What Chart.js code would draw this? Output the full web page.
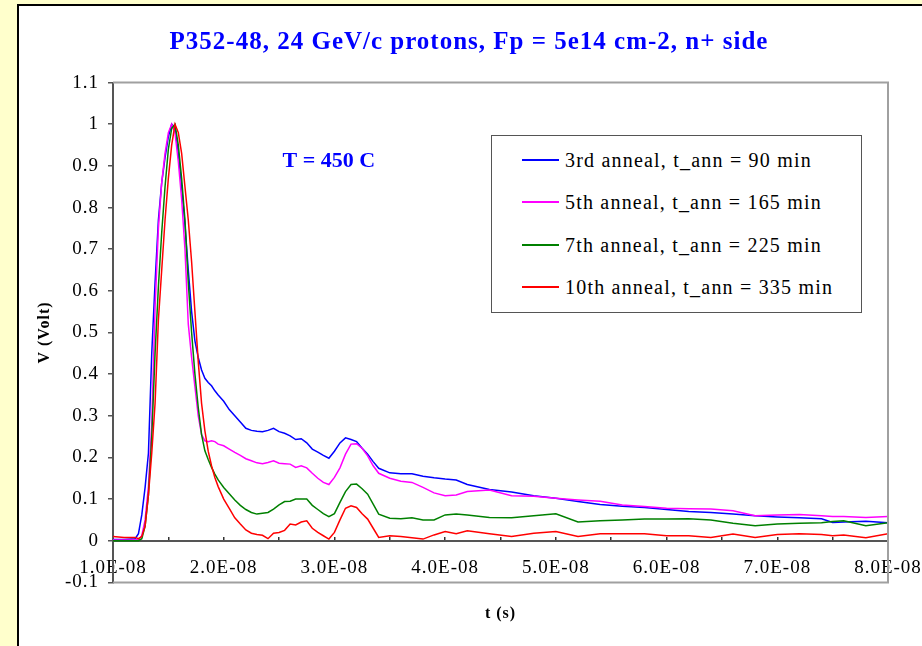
<!DOCTYPE html>
<html>
<head>
<meta charset="utf-8">
<title>P352-48 annealing</title>
<script src="https://cdn.jsdelivr.net/npm/chart.js@4.4.1/dist/chart.umd.min.js"></script>
<style>
  html, body { margin: 0; padding: 0; }
  body { width: 922px; height: 646px; background: #ffffcc; position: relative; overflow: hidden; font-family: "Liberation Serif", serif; }
  #panel { position: absolute; left: 17px; top: 4px; width: 930px; height: 660px; background: #fff; border-left: 2px solid #000; border-top: 2px solid #000; }
  #chart { position: absolute; left: 0; top: 0; }
  #legend { position: absolute; left: 491px; top: 135px; width: 369px; height: 176px; border: 1px solid #555; background: #fff; z-index: 2; }
  .item { position: absolute; left: 30px; height: 24px; display: flex; align-items: center; font-size: 20px; letter-spacing: 1.2px; color: #000; white-space: nowrap; }
  .swatch { display: inline-block; width: 37px; height: 1.5px; margin-right: 6px; }
</style>
</head>
<body>
<div id="panel"></div>
<canvas id="chart" width="922" height="646"></canvas>
<div id="legend"></div>
<script>
// time axis in ns (labels show seconds)
const timeNs = [10, 11, 12, 12.3, 12.6, 12.9, 13.2, 13.5, 13.8, 14.1, 14.4, 14.7, 15, 15.3, 15.6, 15.9, 16.2, 16.5, 16.8, 17.1, 17.4, 17.7, 18, 18.3, 18.6, 18.9, 19.2, 19.5,
  20, 20.5, 21, 21.5, 22, 22.5, 23, 23.5, 24, 24.5, 25, 25.5, 26, 26.5, 27, 27.5, 28, 28.5, 29, 29.5, 30, 30.5, 31, 31.5, 32, 32.5, 33, 33.5, 34,
  35, 36, 37, 38, 39, 40, 41, 42, 44, 46, 48, 50, 52, 54, 56, 58, 60, 62, 64, 66, 68, 70, 72, 74, 75, 76, 78, 80];

const anneal3 = [0.003, 0.003, 0.005, 0.017, 0.062, 0.128, 0.21, 0.45, 0.62, 0.77, 0.86, 0.92, 0.97, 1.0, 0.99, 0.93, 0.85, 0.76, 0.65, 0.55, 0.48, 0.44, 0.41, 0.39, 0.38, 0.372, 0.36, 0.35,
  0.335, 0.315, 0.30, 0.285, 0.27, 0.265, 0.263, 0.262, 0.265, 0.27, 0.262, 0.258, 0.252, 0.243, 0.245, 0.235, 0.22, 0.213, 0.205, 0.198, 0.215, 0.235, 0.247, 0.243, 0.238, 0.222, 0.208, 0.19, 0.174,
  0.163, 0.161, 0.161, 0.155, 0.151, 0.148, 0.146, 0.135, 0.123, 0.117, 0.108, 0.102, 0.094, 0.087, 0.083, 0.08, 0.075, 0.07, 0.068, 0.064, 0.06, 0.057, 0.055, 0.053, 0.044, 0.045, 0.047, 0.043];

const anneal5 = [0.002, 0.002, 0.002, 0.003, 0.012, 0.05, 0.13, 0.28, 0.56, 0.75, 0.86, 0.93, 0.98, 1.0, 0.98, 0.91, 0.82, 0.70, 0.52, 0.44, 0.37, 0.30, 0.255, 0.24, 0.238, 0.24, 0.238, 0.232,
  0.228, 0.22, 0.212, 0.205, 0.197, 0.192, 0.187, 0.185, 0.188, 0.192, 0.186, 0.185, 0.184, 0.176, 0.18, 0.175, 0.162, 0.15, 0.14, 0.135, 0.152, 0.175, 0.208, 0.232, 0.233, 0.222, 0.204, 0.18, 0.162,
  0.15, 0.143, 0.14, 0.128, 0.115, 0.108, 0.11, 0.118, 0.122, 0.108, 0.107, 0.102, 0.098, 0.095, 0.086, 0.082, 0.078, 0.077, 0.076, 0.072, 0.06, 0.062, 0.063, 0.06, 0.058, 0.058, 0.056, 0.058];

const anneal7 = [0, 0, 0, 0, 0.005, 0.035, 0.11, 0.25, 0.45, 0.61, 0.74, 0.85, 0.94, 0.99, 1.0, 0.95, 0.87, 0.77, 0.62, 0.5, 0.40, 0.32, 0.255, 0.216, 0.195, 0.176, 0.16, 0.146,
  0.128, 0.113, 0.098, 0.085, 0.075, 0.068, 0.064, 0.066, 0.068, 0.076, 0.086, 0.094, 0.095, 0.1, 0.1, 0.1, 0.085, 0.075, 0.065, 0.058, 0.065, 0.092, 0.118, 0.135, 0.136, 0.125, 0.112, 0.088, 0.064,
  0.054, 0.053, 0.055, 0.05, 0.05, 0.062, 0.064, 0.062, 0.056, 0.055, 0.06, 0.065, 0.045, 0.048, 0.05, 0.052, 0.052, 0.053, 0.05, 0.042, 0.036, 0.04, 0.042, 0.043, 0.046, 0.048, 0.036, 0.043];

const anneal10 = [0.01, 0.008, 0.008, 0.005, 0.01, 0.035, 0.11, 0.21, 0.33, 0.53, 0.65, 0.77, 0.87, 0.95, 1.0, 0.98, 0.93, 0.85, 0.77, 0.67, 0.55, 0.43, 0.33, 0.264, 0.215, 0.18, 0.152, 0.13,
  0.1, 0.078, 0.055, 0.04, 0.026, 0.018, 0.015, 0.013, 0.005, 0.018, 0.02, 0.025, 0.04, 0.038, 0.045, 0.048, 0.03, 0.02, 0.012, 0.004, 0.02, 0.05, 0.078, 0.084, 0.08, 0.065, 0.052, 0.03, 0.008,
  0.012, 0.01, 0.007, 0.004, 0.014, 0.022, 0.017, 0.024, 0.017, 0.01, 0.018, 0.022, 0.01, 0.017, 0.017, 0.017, 0.012, 0.012, 0.008, 0.016, 0.008, 0.015, 0.017, 0.015, 0.012, 0.014, 0.007, 0.017];

const seriesLabels = ['3rd anneal, t_ann = 90 min', '5th anneal, t_ann = 165 min', '7th anneal, t_ann = 225 min', '10th anneal, t_ann = 335 min'];
const seriesColors = ['#0000ff', '#ff00ff', '#008000', '#ff0000'];
const xTickLabels = ['1.0E-08', '2.0E-08', '3.0E-08', '4.0E-08', '5.0E-08', '6.0E-08', '7.0E-08', '8.0E-08'];
const chartTitle = 'P352-48, 24 GeV/c protons, Fp = 5e14 cm-2, n+ side';
const noteText = 'T = 450 C';
const noteAt = { x: 29.5, y: 0.912 };

const FONT = '"Liberation Serif"';
const allSeries = [anneal3, anneal5, anneal7, anneal10];

const datasets = allSeries.map((vals, i) => ({
  label: seriesLabels[i],
  data: timeNs.map((t, j) => ({ x: t, y: vals[j] })),
  borderColor: seriesColors[i],
  borderWidth: 1.5,
  pointRadius: 0,
  tension: 0,
  order: allSeries.length - i,
}));

// plot frame + temperature note
const frame = {
  id: 'frame',
  beforeDraw(chart) {
    chart.ctx.letterSpacing = '1px';
  },
  afterDatasetsDraw(chart) {
    const { ctx, chartArea: a, scales } = chart;
    ctx.save();
    ctx.strokeStyle = '#a0a0a0';
    ctx.lineWidth = 2;
    ctx.beginPath();
    ctx.moveTo(a.left, a.top);
    ctx.lineTo(a.right, a.top);
    ctx.lineTo(a.right, a.bottom);
    ctx.lineTo(a.left, a.bottom);
    ctx.stroke();
    ctx.letterSpacing = '0px';
    ctx.fillStyle = '#0000ff';
    ctx.font = 'bold 22px ' + FONT;
    ctx.textAlign = 'center';
    ctx.textBaseline = 'middle';
    ctx.fillText(noteText, scales.x.getPixelForValue(noteAt.x), scales.y.getPixelForValue(noteAt.y));
    ctx.restore();
  }
};

new Chart(document.getElementById('chart'), {
  type: 'line',
  data: { datasets: datasets },
  options: {
    responsive: false,
    animation: false,
    devicePixelRatio: 1,
    layout: { padding: { left: 50, right: 34, top: 10, bottom: 23 } },
    plugins: {
      legend: { display: false },
      tooltip: { enabled: false },
      title: {
        display: true,
        text: chartTitle,
        color: '#0000ff',
        font: { family: FONT, size: 25, weight: 'bold' },
        padding: { top: 18, bottom: 24.6 },
      },
      subtitle: {
        display: true,
        text: 't (s)',
        position: 'bottom',
        fullSize: false,
        color: '#000',
        font: { family: FONT, size: 16, weight: 'bold' },
        padding: { top: 21.4, bottom: 0 },
      },
    },
    scales: {
      x: {
        type: 'linear',
        position: { y: 0 },
        min: 10,
        max: 80,
        ticks: {
          stepSize: 5,
          autoSkip: false,
          maxRotation: 0,
          minRotation: 0,
          padding: 21,
          color: '#000',
          font: { family: FONT, size: 19 },
          callback: (v) => (v % 10 === 0 ? xTickLabels[(v - 10) / 10] : ''),
        },
        grid: { drawOnChartArea: false, tickLength: -5, color: '#333', lineWidth: 1.5 },
        border: { color: '#555', width: 2 },
        afterFit(s) { s.paddingLeft = 0; s.paddingRight = 0; },
      },
      y: {
        min: -0.1,
        max: 1.1,
        ticks: {
          stepSize: 0.1,
          padding: 9,
          color: '#000',
          font: { family: FONT, size: 19 },
          callback: (v) => String(parseFloat(v.toFixed(1))),
        },
        grid: { drawOnChartArea: false, tickLength: 5, color: '#555', lineWidth: 1.5 },
        border: { color: '#555', width: 2 },
        title: {
          display: true,
          text: 'V (Volt)',
          color: '#000',
          font: { family: FONT, size: 16, weight: 'bold' },
          padding: { top: -14.6, bottom: 0 },
        },
        afterFit(s) { s.width = 63; },
      },
    },
  },
  plugins: [frame],
});

// legend box
const legend = document.getElementById('legend');
const rowTops = [12, 54, 97, 139];
seriesLabels.forEach((label, i) => {
  const row = document.createElement('div');
  row.className = 'item';
  row.style.top = rowTops[i] + 'px';
  row.innerHTML = `<span class="swatch" style="background:${seriesColors[i]}"></span>${label}`;
  legend.appendChild(row);
});
</script>
</body>
</html>
